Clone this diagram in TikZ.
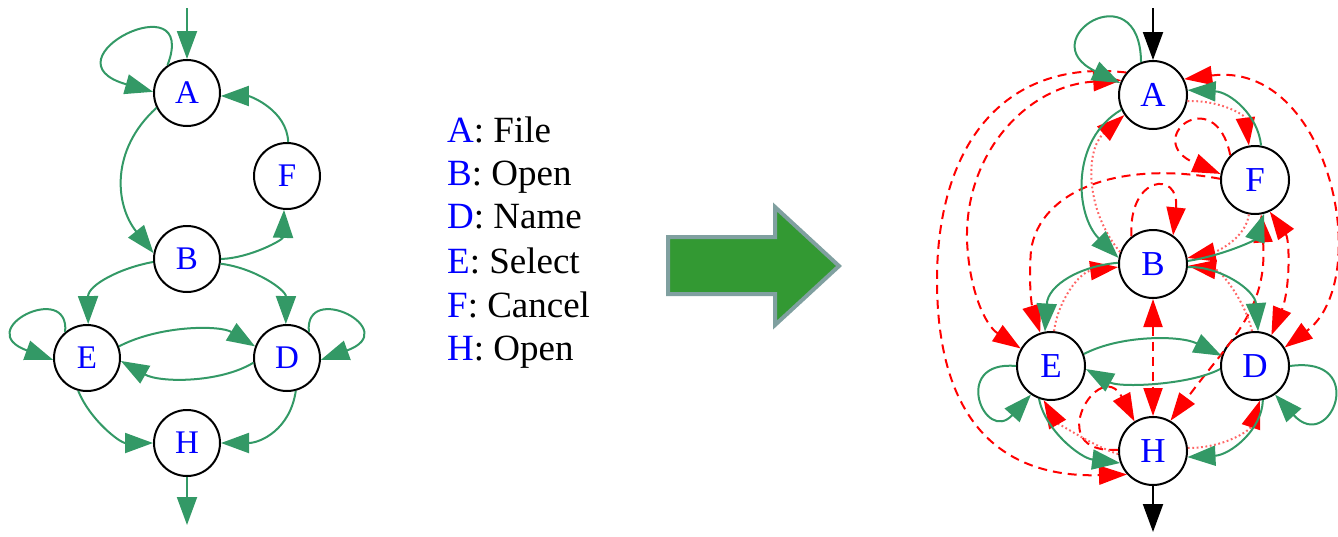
\documentclass[tikz,border=0pt]{standalone}
\usepackage{fontspec}
\setmainfont{Liberation Serif}
\usetikzlibrary{arrows.meta}
\definecolor{eg}{RGB}{51,153,102}
\definecolor{bigfill}{RGB}{51,153,51}
\definecolor{bigline}{RGB}{128,160,160}
\definecolor{lab}{RGB}{0,0,255}
\begin{document}
\begin{tikzpicture}[x=1pt,y=-1pt,
  st/.style={circle,draw=black,line width=2pt,fill=white,minimum size=66pt,inner sep=0pt,text=lab,font=\fontsize{33}{36}\selectfont},
  stR/.style={st,minimum size=68pt,font=\fontsize{35}{38}\selectfont},
  ge/.style={draw=eg,line width=2pt,-{Triangle[length=28pt,width=20pt]}},
  blk/.style={draw=black,line width=2pt,-{Triangle[length=28pt,width=20pt]}},
  rdash/.style={draw=red,line width=2pt,dash pattern=on 9pt off 6pt,-{Triangle[length=28pt,width=19pt]}},
  rboth/.style={draw=red,line width=2pt,dash pattern=on 9pt off 6pt,{Triangle[length=28pt,width=19pt]}-{Triangle[length=28pt,width=19pt]}},
  rdot/.style={draw=red!60,line width=2pt,dash pattern=on 1.8pt off 2.6pt,-{Triangle[length=28pt,width=19pt,color=red]}},
  legend/.style={anchor=base west,inner sep=0pt,font=\fontsize{37}{40}\selectfont},
  bigarrow/.style={fill=bigfill,draw=bigline,line width=4pt,line join=miter}
]
\useasboundingbox (0,0) rectangle (1338,536);

% ---------------- left graph ----------------
\node[st] (A) at (187,93) {A};
\node[st] (F) at (287,176) {F};
\node[st] (B) at (187,259) {B};
\node[st] (E) at (87,358) {E};
\node[st] (D) at (287,358) {D};
\node[st] (H) at (187,443) {H};
\coordinate (in1) at (187,8);
\coordinate (out1) at (187,525);

\draw[ge] (in1) -- (A);
\draw[ge] (A.125) .. controls (200,-20) and (40,60) .. (A.178);
\draw[ge] (A.206) .. controls (110,150) and (115,205) .. (B.170);
\draw[ge] (F.88) .. controls (287,110) and (250,96) .. (A.355);
\draw[ge] (B.0) .. controls (250,258) and (283,240) .. (F.265);
\draw[ge] (B.185) .. controls (120,268) and (88,285) .. (E.88);
\draw[ge] (B.352) .. controls (255,268) and (286,290) .. (D.92);
\draw[ge] (E.130) .. controls (70,280) and (-30,330) .. (E.183);
\draw[ge] (D.50) .. controls (304,280) and (404,330) .. (D.-3);
\draw[ge] (E.20) .. controls (160,325) and (220,325) .. (D.160);
\draw[ge] (D.188) .. controls (220,383) and (160,383) .. (E.355);
\draw[ge] (E.255) .. controls (90,420) and (120,443) .. (H.180);
\draw[ge] (D.285) .. controls (290,430) and (260,443) .. (H.0);
\draw[ge] (H) -- (out1);

% ---------------- legend ----------------
\node[legend] (l1) at (447,142) {\textcolor{lab}{A}: File};
\node[legend] (l2) at (447,185) {\textcolor{lab}{B}: Open};
\node[legend] (l3) at (447,228) {\textcolor{lab}{D}: Name};
\node[legend] (l4) at (447,273) {\textcolor{lab}{E}: Select};
\node[legend] (l5) at (447,317) {\textcolor{lab}{F}: Cancel};
\node[legend] (l6) at (447,360) {\textcolor{lab}{H}: Open};

% ---------------- big arrow ----------------
\draw[bigarrow] (668,237) -- (775,237) -- (775,207) -- (839,266) -- (775,325) -- (775,294) -- (668,294) -- cycle;

% ---------------- right graph ----------------
\node[stR] (rA) at (1153,95) {A};
\node[stR] (rF) at (1255,180) {F};
\node[stR] (rB) at (1153,264) {B};
\node[stR] (rE) at (1051,366) {E};
\node[stR] (rD) at (1255,366) {D};
\node[stR] (rH) at (1153,451) {H};
\coordinate (in2) at (1153,8);
\coordinate (out2) at (1153,532);

% red dashed
\draw[rdash] (rA.140) .. controls (1000,58) and (937,150) .. (937,280) .. controls (937,420) and (1000,478) .. (rH.222);
\draw[rboth] (rA.155) .. controls (1030,85) and (965,150) .. (967,240) .. controls (969,290) and (985,325) .. (rE.150);
\draw[rboth] (rA.27) .. controls (1330,60) and (1375,280) .. (rD.32);
\draw[rdash] (rF.135) .. controls (1215,80) and (1140,140) .. (rF.170);
\draw[rdash] (rF.178) .. controls (1120,160) and (1040,190) .. (1031,250) .. controls (1028,290) and (1033,310) .. (rE.108);
\draw[rdash] (rB.128) .. controls (1128,175) and (1180,170) .. (rB.55);
\draw[rboth] (rB) -- (rH);
\draw[rdash] (rH.178) .. controls (1040,455) and (1100,355) .. (rH.122);
\draw[rboth] (rF.295) .. controls (1290,240) and (1290,290) .. (rD.62);
\draw[rboth] (rF.280) .. controls (1268,310) and (1230,340) .. (rH.60);

% red dotted
\draw[rdot] (rB.160) .. controls (1085,210) and (1085,150) .. (rA.215);
\draw[rdot] (rA.350) .. controls (1220,100) and (1245,115) .. (rF.100);
\draw[rdot] (rF.260) .. controls (1245,240) and (1215,252) .. (rB.10);
\draw[rdot] (rD.95) .. controls (1245,300) and (1220,270) .. (rB.357);
\draw[rdot] (rE.85) .. controls (1058,300) and (1080,272) .. (rB.185);
\draw[rdot] (rH.185) .. controls (1090,445) and (1055,420) .. (rE.258);
\draw[rdot] (rH.5) .. controls (1225,448) and (1250,430) .. (rD.278);

% green and black
\draw[blk] (in2) -- (rA);
\draw[ge] (rA.110) .. controls (1140,-30) and (1030,40) .. (rA.160);
\draw[ge] (rA.205) .. controls (1070,140) and (1075,215) .. (rB.170);
\draw[ge] (rF.80) .. controls (1258,115) and (1230,92) .. (rA.8);
\draw[ge] (rB.5) .. controls (1225,255) and (1255,240) .. (rF.285);
\draw[ge] (rB.355) .. controls (1220,266) and (1255,290) .. (rD.85);
\draw[ge] (rB.178) .. controls (1080,266) and (1048,285) .. (rE.100);
\draw[ge] (rE.20) .. controls (1120,335) and (1180,335) .. (rD.163);
\draw[ge] (rD.185) .. controls (1190,385) and (1120,388) .. (rE.355);
\draw[ge] (rE.180) .. controls (950,360) and (985,445) .. (rE.235);
\draw[ge] (rD.0) .. controls (1370,355) and (1330,455) .. (rD.305);
\draw[ge] (rE.250) .. controls (1045,430) and (1080,458) .. (rH.200);
\draw[ge] (rD.283) .. controls (1262,430) and (1230,455) .. (rH.350);
\draw[blk] (rH) -- (out2);
\end{tikzpicture}
\end{document}
